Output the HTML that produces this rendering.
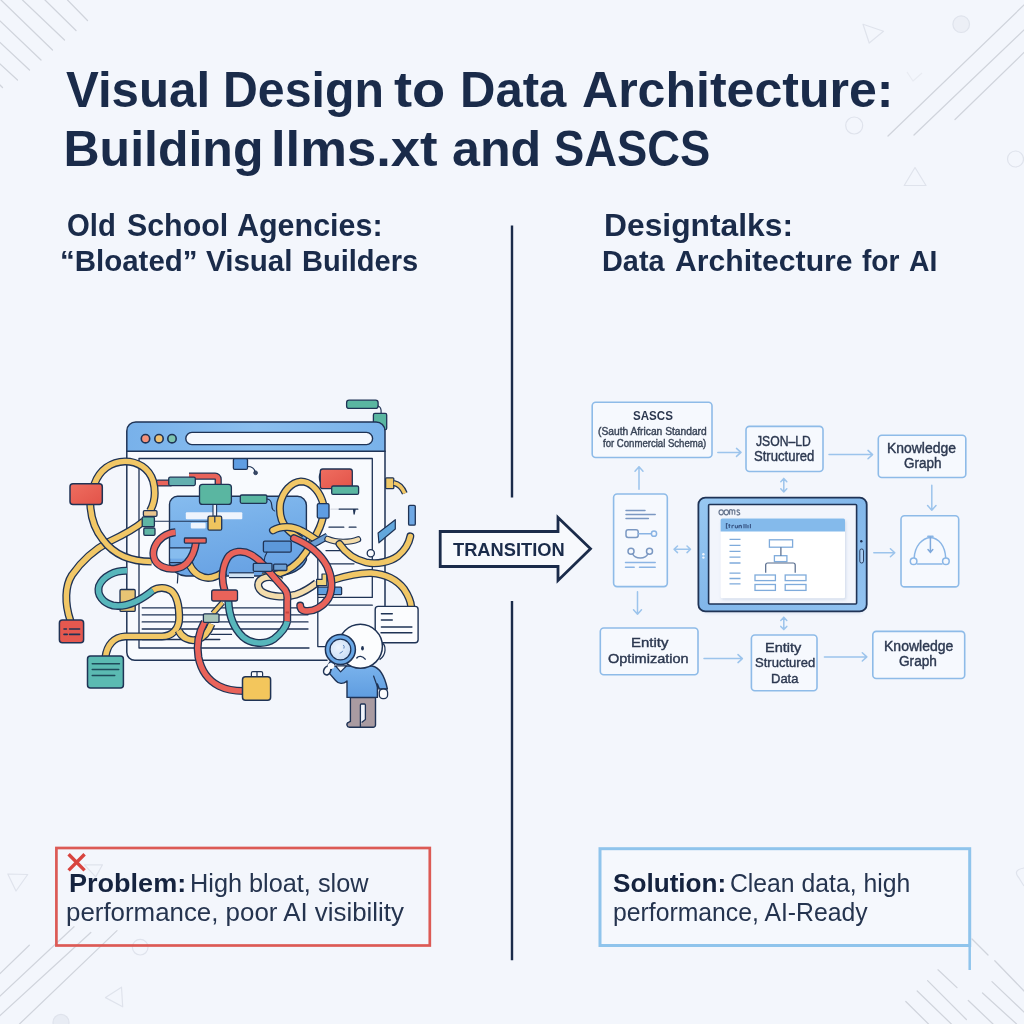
<!DOCTYPE html>
<html lang="en"><head><meta charset="utf-8"><title>Visual Design to Data Architecture</title>
<style>
html,body{margin:0;padding:0}
body{width:1024px;height:1024px;overflow:hidden;background:#f3f6fc;position:relative;
font-family:"Liberation Sans", sans-serif;}
svg{position:absolute;left:0;top:0}
.t{position:absolute;white-space:nowrap;line-height:1;transform-origin:0 0;
font-family:"Liberation Sans", sans-serif;}
</style></head><body>
<svg width="1024" height="1024" viewBox="0 0 1024 1024">
<g fill="none" stroke="#d0d4dc" stroke-width="1.25" stroke-linecap="round">
<!-- top-left -->
<path d="M67.5 0 L87.5 20.5 M45 0 L76 30.5 M22.5 0 L64.5 40 M1 0 L52.5 50 M0 21 L41 60 M0 42.5 L29.5 70 M0 64 L17.5 80 M0 85 L2.5 87.5"/>
<!-- top-right -->
<path d="M888 136 L1024 5 M914 135 L1024 30 M955 119.5 L1024 52.5"/>
<!-- bottom-left -->
<path d="M0 973.5 L29.3 945.2 M0 996 L74 926.7 M0 1015.5 L90.8 932.5 M19.5 1024 L117 930.6"/>
<!-- bottom-right -->
<path d="M972 939 L988 955 M994.8 960.7 L1024 991 M938 969.8 L957 987.6 M992 981.6 L1024 1012 M927.6 980.6 L966.4 1019.5 M982.5 993 L1016.6 1024 M917.2 991 L951.3 1024 M968.3 1000.5 L993 1024 M905.8 1001.5 L928.5 1024"/>
</g>
<g fill="none" stroke="#dfe3ec" stroke-width="1.2" stroke-linejoin="round">
<path d="M863 24.2 L883.5 31.2 L869.2 43 Z"/>
<circle cx="961.2" cy="24.2" r="8.3" fill="#eceff6"/>
<circle cx="854.2" cy="125.5" r="8.5"/>
<path d="M915 167.5 L926 185.5 L904.2 185.5 Z"/>
<circle cx="1015.5" cy="159" r="8"/>
<path d="M907 72 L913 81 L922 73" stroke="#e8ebf2"/>
<path d="M7.8 874 L27.7 874.5 L16 891 Z"/>
<path d="M84.4 864.8 L102.5 864.8 L95.7 876.9 Z"/>
<circle cx="140.2" cy="947.2" r="7.8"/>
<path d="M105.5 997.6 L121.5 987.2 L122.7 1006.8 Z"/>
<circle cx="61" cy="1022.4" r="8" fill="#e8ecf4"/>
<path d="M1024 868 q-12 2 -5 10 q3 5 5 8"/>
</g>
</svg>

<svg width="1024" height="1024" viewBox="0 0 1024 1024">
<defs>
<linearGradient id="tb" x1="0" y1="0" x2="1" y2="0"><stop offset="0" stop-color="#78b1ea"/><stop offset="0.5" stop-color="#8bbfef"/><stop offset="1" stop-color="#79b2ea"/></linearGradient>
<linearGradient id="cd" x1="0" y1="0" x2="0.3" y2="1"><stop offset="0" stop-color="#86bcef"/><stop offset="0.5" stop-color="#76afe9"/><stop offset="1" stop-color="#69a3e4"/></linearGradient>
<linearGradient id="rd" x1="0" y1="0" x2="1" y2="1"><stop offset="0" stop-color="#ef6e60"/><stop offset="1" stop-color="#e25349"/></linearGradient>
<linearGradient id="sh" x1="0" y1="0" x2="0" y2="1"><stop offset="0" stop-color="#79b2ec"/><stop offset="1" stop-color="#5f9de0"/></linearGradient>
<radialGradient id="ln" cx="0.4" cy="0.4" r="0.7"><stop offset="0" stop-color="#eef5fd"/><stop offset="1" stop-color="#c6dcf5"/></radialGradient>
</defs>
<rect x="346.6" y="400.2" width="31.5" height="8.2" rx="2.5" fill="#5ab6a1" stroke="#1f3355" stroke-width="1.3" />
<path d="M378.1 406 q3.5 1 3 7" fill="none" stroke="#1f3355" stroke-width="1.2" stroke-linecap="round" stroke-linejoin="round"/>
<rect x="373.4" y="413.4" width="13.3" height="16.4" rx="1.5" fill="#5ab6a1" stroke="#1f3355" stroke-width="1.3" />
<path d="M126.8 652.3 V430.9 a9 9 0 0 1 9 -9 H376 a9 9 0 0 1 9 9 V605 H373 V647 H327 V660.3 H134.8 a8 8 0 0 1 -8 -8 Z" fill="#f8fafe" stroke="none"/>
<path d="M126.8 451.2 V430.9 a9 9 0 0 1 9 -9 H376 a9 9 0 0 1 9 9 V451.2 Z" fill="url(#tb)" stroke="none"/>
<path d="M327 660.3 H134.8 a8 8 0 0 1 -8 -8 V430.9 a9 9 0 0 1 9 -9 H376 a9 9 0 0 1 9 9 V605.5" fill="none" stroke="#1f3355" stroke-width="1.5" stroke-linecap="round" stroke-linejoin="round"/>
<path d="M126.8 451.2 H385" fill="none" stroke="#1f3355" stroke-width="1.6" stroke-linecap="round" stroke-linejoin="round"/>
<rect x="185.8" y="432.4" width="186.8" height="12.2" rx="6.1" fill="#f6f9fe" stroke="#1f3355" stroke-width="1.4"/>
<circle cx="145.5" cy="438.7" r="4.2" fill="#f4917a" stroke="#1f3355" stroke-width="1.6"/>
<circle cx="159" cy="438.7" r="4.2" fill="#eec172" stroke="#1f3355" stroke-width="1.6"/>
<circle cx="172" cy="438.7" r="4.2" fill="#7cc3ae" stroke="#1f3355" stroke-width="1.6"/>
<path d="M139 648 V458.5 H372.3 V597.4 H318 M139 648 H309 M317.8 559 V646.6 H326 M329 605.2 H372.3" fill="none" stroke="#1f3355" stroke-width="1.3" stroke-linecap="round" stroke-linejoin="round"/>
<path d="M142.2 607.8 H308 M142.2 614.8 H308 M142.2 621.9 H308 M142.2 629 H308 M211 634.4 H231.5 M142.2 634.4 H175 M142.2 639.5 H219.8" fill="none" stroke="#1f3355" stroke-width="1.3" stroke-linecap="round" stroke-linejoin="round"/>
<rect x="320.3" y="469" width="32.0" height="19.7" rx="2.5" fill="url(#rd)" stroke="#1f3355" stroke-width="1.3" />
<path d="M320.3 473 q-2 4 0 9" fill="none" stroke="#1f3355" stroke-width="1.2" stroke-linecap="round" stroke-linejoin="round"/>
<rect x="331.7" y="486" width="26.9" height="8.4" rx="1.5" fill="#5ab6a1" stroke="#1f3355" stroke-width="1.3" />
<path d="M339 509.2 H357.8 M353.6 509.4 l0.5 4.6 l1 -4.6 M329 527.2 H343.8 M349.2 527.2 H356 M330 563.8 H354 M326 550.6 H342" fill="none" stroke="#1f3355" stroke-width="1.3" stroke-linecap="round" stroke-linejoin="round"/>
<path d="M331 509.2 H338" fill="none" stroke="#d9dde6" stroke-width="1.3" stroke-linecap="round" stroke-linejoin="round"/>
<circle cx="370.8" cy="553.3" r="3.6" fill="#fbfcfe" stroke="#1f3355" stroke-width="1.3"/>
<rect x="233.4" y="458.6" width="14.1" height="10.8" rx="1.5" fill="#5f9de2" stroke="#1f3355" stroke-width="1.3" />
<path d="M247.5 466.5 q6.5 0 7.6 5.4" fill="none" stroke="#1f3355" stroke-width="1.2" stroke-linecap="round" stroke-linejoin="round"/>
<circle cx="255.6" cy="472.8" r="1.9" fill="#3b4a66" stroke="#1f3355" stroke-width="0.8"/>
<path d="M169.5 504.3 a8 8 0 0 1 8 -8 H297.4 a9 9 0 0 1 9 9 V560 q-6 14 -30 16 H186 q-12 -1 -16.5 -12 Z" fill="url(#cd)" stroke="#1f3355" stroke-width="1.4"/>
<path d="M170.2 548 H196 V558.6 H170.2 Z" fill="#8cc0f0" opacity="0.8"/>
<path d="M169.5 547.8 H192 M170 562.7 H182 M178 573 l-0.6 10" fill="none" stroke="#1f3355" stroke-width="1.2" stroke-linecap="round" stroke-linejoin="round"/>
<rect x="185.8" y="512.2" width="56.5" height="7" rx="1" fill="#eef4fd"/>
<rect x="190.8" y="522.8" width="14.8" height="5.8" rx="1" fill="#eef4fd"/>
<path d="M154.4 521.2 H208" fill="none" stroke="#1f3355" stroke-width="1.1" stroke-linecap="round" stroke-linejoin="round"/>
<rect x="240.3" y="495" width="26.6" height="8.3" rx="1.5" fill="#5ab6a1" stroke="#1f3355" stroke-width="1.3" />
<path d="M266.9 499 q4.5 0.5 4.8 6 q0.2 5.5 3 6" fill="none" stroke="#1f3355" stroke-width="1.2" stroke-linecap="round" stroke-linejoin="round"/>
<rect x="263.4" y="541.2" width="27.8" height="11.0" rx="1.5" fill="#5c98da" stroke="#1f3355" stroke-width="1.3" />
<path d="M267 552.2 q-2.5 4 -3 9" fill="none" stroke="#1f3355" stroke-width="1.2" stroke-linecap="round" stroke-linejoin="round"/>
<path d="M158 483 H170" fill="none" stroke="#1f3355" stroke-width="7" stroke-linecap="round" stroke-linejoin="round"/>
<path d="M158 483 H170" fill="none" stroke="#e9635a" stroke-width="4.6" stroke-linecap="round" stroke-linejoin="round"/>
<path d="M189 476.1 H215.2 a3 3 0 0 1 3 3 V485" fill="none" stroke="#1f3355" stroke-width="7.2" stroke-linecap="butt" stroke-linejoin="round"/>
<path d="M189 476.1 H215.2 a3 3 0 0 1 3 3 V485" fill="none" stroke="#e9635a" stroke-width="4.6" stroke-linecap="butt" stroke-linejoin="round"/>
<rect x="168.7" y="477.2" width="26.6" height="8.4" rx="1.5" fill="#63afb0" stroke="#1f3355" stroke-width="1.3" />
<rect x="213" y="504" width="3.6" height="13" fill="#f1f4fa" stroke="#1f3355" stroke-width="1.1"/>
<rect x="199.5" y="484.3" width="31.9" height="20.1" rx="3" fill="#5ab6a1" stroke="#1f3355" stroke-width="1.3" />
<rect x="208" y="516.2" width="13.7" height="14.0" rx="1.5" fill="#efc45e" stroke="#1f3355" stroke-width="1.3" />
<path d="M214.8 516.2 V522" fill="none" stroke="#1f3355" stroke-width="1.2" stroke-linecap="round" stroke-linejoin="round"/>
<path d="M144 521 C134 529.5 121 536 109.4 541.5 C95.5 549 81 562 72 575 C65 586 64.4 603 70.5 621" fill="none" stroke="#1f3355" stroke-width="8.0" stroke-linecap="butt" stroke-linejoin="round"/>
<path d="M144 521 C134 529.5 121 536 109.4 541.5 C95.5 549 81 562 72 575 C65 586 64.4 603 70.5 621" fill="none" stroke="#f1c766" stroke-width="5.4" stroke-linecap="butt" stroke-linejoin="round"/>
<path d="M150 511 C154.5 503 156 492 153.1 481 C149 468 137.5 461.4 125 461.4 C111 461.6 99.5 470 94.5 484 L90.3 504.4 C90.8 517 95 530 103.1 540 C112 552 127 561.6 151.5 561.6" fill="none" stroke="#1f3355" stroke-width="8.0" stroke-linecap="butt" stroke-linejoin="round"/>
<path d="M150 511 C154.5 503 156 492 153.1 481 C149 468 137.5 461.4 125 461.4 C111 461.6 99.5 470 94.5 484 L90.3 504.4 C90.8 517 95 530 103.1 540 C112 552 127 561.6 151.5 561.6" fill="none" stroke="#f1c766" stroke-width="5.4" stroke-linecap="butt" stroke-linejoin="round"/>
<rect x="70" y="483.8" width="32.3" height="20.6" rx="3" fill="url(#rd)" stroke="#1f3355" stroke-width="1.5" />
<rect x="143.4" y="510.6" width="13.6" height="5.7" rx="1.2" fill="#e9c58f" stroke="#1f3355" stroke-width="1.3" />
<rect x="142.2" y="516.9" width="12.2" height="9.8" rx="1.2" fill="#5fb5a5" stroke="#1f3355" stroke-width="1.3" />
<rect x="143.8" y="528" width="11.2" height="7.3" rx="1.2" fill="#5fb5a5" stroke="#1f3355" stroke-width="1.3" />
<path d="M189 563 C192.5 573 202 579.5 212 577.5 C218 576.3 221 573.5 225 571" fill="none" stroke="#1f3355" stroke-width="8.0" stroke-linecap="butt" stroke-linejoin="round"/>
<path d="M189 563 C192.5 573 202 579.5 212 577.5 C218 576.3 221 573.5 225 571" fill="none" stroke="#f1c766" stroke-width="5.4" stroke-linecap="butt" stroke-linejoin="round"/>
<path d="M229 575.2 H254" fill="none" stroke="#1f3355" stroke-width="6" stroke-linecap="butt" stroke-linejoin="round"/>
<path d="M229 575.2 H254" fill="none" stroke="#cfe2f4" stroke-width="3.6" stroke-linecap="butt" stroke-linejoin="round"/>
<path d="M262 576.4 C280 576 292 569 300.5 559.5 C308.5 550 315 538 319.7 527.5 C324 517 325 507 322 500 C318 489 310 481.6 301 481.4 C291 482 283 492 280.3 503 C279 513 281 522 287 528.5 C291 533 296 536.5 301 539.5" fill="none" stroke="#1f3355" stroke-width="8.0" stroke-linecap="butt" stroke-linejoin="round"/>
<path d="M262 576.4 C280 576 292 569 300.5 559.5 C308.5 550 315 538 319.7 527.5 C324 517 325 507 322 500 C318 489 310 481.6 301 481.4 C291 482 283 492 280.3 503 C279 513 281 522 287 528.5 C291 533 296 536.5 301 539.5" fill="none" stroke="#f1c766" stroke-width="5.4" stroke-linecap="butt" stroke-linejoin="round"/>
<path d="M273 530.4 C281 525.5 293 526 302 531 C309 534.6 313 538 318 541" fill="none" stroke="#1f3355" stroke-width="8.0" stroke-linecap="round" stroke-linejoin="round"/>
<path d="M273 530.4 C281 525.5 293 526 302 531 C309 534.6 313 538 318 541" fill="none" stroke="#f1c766" stroke-width="5.4" stroke-linecap="round" stroke-linejoin="round"/>
<rect x="317.3" y="503.6" width="11.7" height="14.6" rx="1.5" fill="#5f9de2" stroke="#1f3355" stroke-width="1.3" />
<path d="M311.5 545 L327.5 536.2" fill="none" stroke="#1f3355" stroke-width="7.4" stroke-linecap="butt" stroke-linejoin="round"/>
<path d="M311.5 545 L327.5 536.2" fill="none" stroke="#6c9fd4" stroke-width="5" stroke-linecap="butt" stroke-linejoin="round"/>
<path d="M327.5 539 C336 542.8 350 542.8 358 539.4" fill="none" stroke="#1f3355" stroke-width="6.4" stroke-linecap="round" stroke-linejoin="round"/>
<path d="M327.5 539 C336 542.8 350 542.8 358 539.4" fill="none" stroke="#f3dcab" stroke-width="4.2" stroke-linecap="round" stroke-linejoin="round"/>
<path d="M339.5 544 C346 553.5 356 560 366 562.4 C377 564.6 390 562 398 556 C405 550 409 543 410.3 536.4" fill="none" stroke="#1f3355" stroke-width="8.0" stroke-linecap="round" stroke-linejoin="round"/>
<path d="M339.5 544 C346 553.5 356 560 366 562.4 C377 564.6 390 562 398 556 C405 550 409 543 410.3 536.4" fill="none" stroke="#f1c766" stroke-width="5.4" stroke-linecap="round" stroke-linejoin="round"/>
<path d="M175.5 532.2 C166 533 158 539 154.7 547 C151.6 555 154 563 162.5 566.8 C171 570.6 181 569 187 563 C192 557.5 195 550 196 542" fill="none" stroke="#1f3355" stroke-width="8.0" stroke-linecap="butt" stroke-linejoin="round"/>
<path d="M175.5 532.2 C166 533 158 539 154.7 547 C151.6 555 154 563 162.5 566.8 C171 570.6 181 569 187 563 C192 557.5 195 550 196 542" fill="none" stroke="#e9635a" stroke-width="5.4" stroke-linecap="butt" stroke-linejoin="round"/>
<rect x="184.4" y="538" width="21.8" height="5.1" rx="0.8" fill="#e9635a" stroke="#1f3355" stroke-width="1.3" />
<rect x="273.6" y="564.2" width="13.3" height="6.3" rx="1" fill="#6c9fd4" stroke="#1f3355" stroke-width="1.3" />
<path d="M316.5 583 C309.5 588.5 303 592.3 296 594.6 C286 597.6 272 597 264.4 593.2 C257 589.4 256 582 262.4 578.6 C268 576 275 577 281 581" fill="none" stroke="#1f3355" stroke-width="8.0" stroke-linecap="butt" stroke-linejoin="round"/>
<path d="M316.5 583 C309.5 588.5 303 592.3 296 594.6 C286 597.6 272 597 264.4 593.2 C257 589.4 256 582 262.4 578.6 C268 576 275 577 281 581" fill="none" stroke="#f3dcab" stroke-width="5.4" stroke-linecap="butt" stroke-linejoin="round"/>
<path d="M224.6 590.5 C221.4 580 222 567.5 227.5 558 C232.5 550.6 243 550 251 554.6 C257 558 261 562 264 565.5 C271 574 280 584 285 589.6 C288 594 287.6 598 287.2 601 V621.5" fill="none" stroke="#1f3355" stroke-width="8.0" stroke-linecap="butt" stroke-linejoin="round"/>
<path d="M224.6 590.5 C221.4 580 222 567.5 227.5 558 C232.5 550.6 243 550 251 554.6 C257 558 261 562 264 565.5 C271 574 280 584 285 589.6 C288 594 287.6 598 287.2 601 V621.5" fill="none" stroke="#e9635a" stroke-width="5.4" stroke-linecap="butt" stroke-linejoin="round"/>
<rect x="253.3" y="563.4" width="18.7" height="7.9" rx="1" fill="#6c9fd4" stroke="#1f3355" stroke-width="1.3" />
<rect x="285.6" y="611.5" width="3.4" height="2" fill="#c8453e"/>
<path d="M228.4 601 C229 615 234 628.5 243 637 C251 644 265 645 273.5 639.3 C281 633.5 286 627 287.2 621.5" fill="none" stroke="#1f3355" stroke-width="8.0" stroke-linecap="butt" stroke-linejoin="round"/>
<path d="M228.4 601 C229 615 234 628.5 243 637 C251 644 265 645 273.5 639.3 C281 633.5 286 627 287.2 621.5" fill="none" stroke="#57b6bb" stroke-width="5.4" stroke-linecap="butt" stroke-linejoin="round"/>
<rect x="211.7" y="590" width="25.8" height="11.0" rx="2" fill="#e9635a" stroke="#1f3355" stroke-width="1.3" />
<path d="M333.5 579.8 C345 576.2 360 572.6 371.3 573 C385 574 397 580 404 589 C408 595 410.6 600 411.2 606.5" fill="none" stroke="#1f3355" stroke-width="8.0" stroke-linecap="butt" stroke-linejoin="round"/>
<path d="M333.5 579.8 C345 576.2 360 572.6 371.3 573 C385 574 397 580 404 589 C408 595 410.6 600 411.2 606.5" fill="none" stroke="#f1c766" stroke-width="5.4" stroke-linecap="butt" stroke-linejoin="round"/>
<path d="M316.6 579.4 H322 V574 H326.8 V585.6 H316.6 Z" fill="#efd27a" stroke="#1f3355" stroke-width="1.2" stroke-linejoin="round"/>
<rect x="317.8" y="587.2" width="23.8" height="7.5" rx="1" fill="#5f9fe0" stroke="#1f3355" stroke-width="1.3" />
<rect x="327" y="588" width="5" height="6" fill="#9cc4ee"/>
<path d="M294 538.2 C307 543.6 320 553 327 566 C332.4 577 333 590 328.4 598.4 C323.4 606.4 313.4 612.4 304.4 610.8 C301.4 610.2 300.2 608 300.2 605.6" fill="none" stroke="#1f3355" stroke-width="8.0" stroke-linecap="round" stroke-linejoin="round"/>
<path d="M294 538.2 C307 543.6 320 553 327 566 C332.4 577 333 590 328.4 598.4 C323.4 606.4 313.4 612.4 304.4 610.8 C301.4 610.2 300.2 608 300.2 605.6" fill="none" stroke="#e9635a" stroke-width="5.4" stroke-linecap="round" stroke-linejoin="round"/>
<rect x="375.2" y="606.4" width="42.9" height="36.3" rx="3" fill="#fbfcfe" stroke="#1f3355" stroke-width="1.4" />
<path d="M381.4 613.8 H392.3 M381.4 620 H392.3 M381.4 627 H411.9 M381 632.8 H411.9" fill="none" stroke="#1f3355" stroke-width="1.4" stroke-linecap="round" stroke-linejoin="round"/>
<rect x="385.6" y="477.8" width="8.2" height="10.9" rx="1" fill="#efc868" stroke="#1f3355" stroke-width="1.3" />
<path d="M393.8 483 C399 484 402.6 488 404.8 493.4" fill="none" stroke="#1f3355" stroke-width="6" stroke-linecap="butt" stroke-linejoin="round"/>
<path d="M393.8 483 C399 484 402.6 488 404.8 493.4" fill="none" stroke="#f1c766" stroke-width="3.6" stroke-linecap="butt" stroke-linejoin="round"/>
<rect x="408.6" y="505.3" width="6.7" height="19.9" rx="1.2" fill="#6fa8e4" stroke="#1f3355" stroke-width="1.3" />
<path d="M378.1 533 L395.3 519.7 V529 L378.9 542.8 Z" fill="#63a7dc" stroke="#1f3355" stroke-width="1.2" stroke-linejoin="round"/>
<rect x="120" y="589.5" width="15.2" height="21.9" rx="1.2" fill="#e8c474" stroke="#1f3355" stroke-width="1.3" />
<path d="M127 570.8 C115 570.5 103 576 99 586 C96.5 595 103 603 113 605.5 C125 607.5 140 601 153.6 589.8" fill="none" stroke="#1f3355" stroke-width="8.0" stroke-linecap="butt" stroke-linejoin="round"/>
<path d="M127 570.8 C115 570.5 103 576 99 586 C96.5 595 103 603 113 605.5 C125 607.5 140 601 153.6 589.8" fill="none" stroke="#57b6bb" stroke-width="5.4" stroke-linecap="butt" stroke-linejoin="round"/>
<path d="M153 590.3 C158 587 166 587 171.5 591 C177 596 179.2 606 179.2 618 C179.2 629 172 636.4 162 636.4 L125 636.4 C114 637 107 645 105.5 657" fill="none" stroke="#1f3355" stroke-width="8.0" stroke-linecap="butt" stroke-linejoin="round"/>
<path d="M153 590.3 C158 587 166 587 171.5 591 C177 596 179.2 606 179.2 618 C179.2 629 172 636.4 162 636.4 L125 636.4 C114 637 107 645 105.5 657" fill="none" stroke="#f1c766" stroke-width="5.4" stroke-linecap="butt" stroke-linejoin="round"/>
<path d="M178.5 630.5 C182 638 190 641.8 197.5 639.6 C204 637.2 209 630.5 211.5 624" fill="none" stroke="#1f3355" stroke-width="8.0" stroke-linecap="butt" stroke-linejoin="round"/>
<path d="M178.5 630.5 C182 638 190 641.8 197.5 639.6 C204 637.2 209 630.5 211.5 624" fill="none" stroke="#f1c766" stroke-width="5.4" stroke-linecap="butt" stroke-linejoin="round"/>
<path d="M213 613.4 L222.6 602.6" fill="none" stroke="#1f3355" stroke-width="6" stroke-linecap="butt" stroke-linejoin="round"/>
<path d="M213 613.4 L222.6 602.6" fill="none" stroke="#f1c766" stroke-width="3.6" stroke-linecap="butt" stroke-linejoin="round"/>
<path d="M204.6 622 C199 632 196.4 645 198.4 657 C201 670 208 680.4 219 686 C227 690 235 691 243.5 691" fill="none" stroke="#1f3355" stroke-width="8.0" stroke-linecap="butt" stroke-linejoin="round"/>
<path d="M204.6 622 C199 632 196.4 645 198.4 657 C201 670 208 680.4 219 686 C227 690 235 691 243.5 691" fill="none" stroke="#e9635a" stroke-width="5.4" stroke-linecap="butt" stroke-linejoin="round"/>
<rect x="203.4" y="613.8" width="15.6" height="8.5" rx="1.2" fill="#a9c6ba" stroke="#1f3355" stroke-width="1.3" />
<rect x="59.4" y="620" width="24.2" height="22.7" rx="3" fill="#e5584f" stroke="#1f3355" stroke-width="1.5" />
<path d="M64 629 H66.4 M69.6 629 H79.6 M64 634.4 H67.2 M69.6 634.4 H79.6" fill="none" stroke="#1f3355" stroke-width="1.6" stroke-linecap="round" stroke-linejoin="round"/>
<rect x="87.5" y="656" width="35.9" height="32.0" rx="3" fill="#5bbab2" stroke="#1f3355" stroke-width="1.5" />
<path d="M92.2 663.8 H119.5 M92.2 669.5 H118.8 M92.2 675.5 H114.8" fill="none" stroke="#1f4a5a" stroke-width="1.4" stroke-linecap="round" stroke-linejoin="round"/>
<path d="M251.4 676.7 V673 a1.4 1.4 0 0 1 1.4 -1.4 H261.2 a1.4 1.4 0 0 1 1.4 1.4 V676.7 M257 671.6 V676.7" fill="#fbfcfe" stroke="#1f3355" stroke-width="1.2"/>
<rect x="242.5" y="676.7" width="28.1" height="23.5" rx="3" fill="#f3c65c" stroke="#1f3355" stroke-width="1.5" />
<path d="M350.4 697.6 H375.5 V725 a2.3 2.3 0 0 1 -2.3 2.3 H349.5 a2.6 2.6 0 0 1 -1 -5 L350.4 721.4 Z" fill="#a99ba1" stroke="#1f3355" stroke-width="1.4" stroke-linejoin="round"/>
<path d="M360.4 727 V705 a1 1 0 0 1 1 -1 H364.4 a1 1 0 0 1 1 1 V719.6 L361.6 722.6" fill="#f2f5fb" stroke="#1f3355" stroke-width="1.3" stroke-linejoin="round"/>
<path d="M335 666.4 L347 666 H372 C380 667.5 384.5 675 387.4 689 H379.4 L377.4 684 V697.4 H347 V681 C343 684.5 338.6 684 335.6 680.5 L328.8 672.6 L333.6 665.8 Z" fill="url(#sh)" stroke="#1f3355" stroke-width="1.4" stroke-linejoin="round"/>
<path d="M373.6 676 L378.2 689" fill="none" stroke="#1f3355" stroke-width="1.2" stroke-linecap="round" stroke-linejoin="round"/>
<path d="M335.6 666 L340.6 671.8 L346.4 666 Z" fill="#fbfcfe" stroke="#1f3355" stroke-width="1.2" stroke-linejoin="round"/>
<rect x="379.3" y="689" width="8.3" height="9.7" rx="3.6" fill="#fbfcfe" stroke="#1f3355" stroke-width="1.3"/>
<path d="M381.6 642.6 C386.4 645 386.6 655 379.6 659.6" fill="#fbfcfe" stroke="#1f3355" stroke-width="1.3"/>
<circle cx="360.4" cy="646.3" r="22" fill="#fcfdfe" stroke="#1f3355" stroke-width="1.5"/>
<ellipse cx="362.5" cy="648.2" rx="1.4" ry="2.2" fill="#1f3355"/>
<path d="M356.8 658 C358.4 655.8 362.6 655.6 365.2 659.2" fill="none" stroke="#1f3355" stroke-width="1.4" stroke-linecap="round" stroke-linejoin="round"/>
<path d="M332.6 662.6 L328 669.4" fill="none" stroke="#1f3355" stroke-width="6.2" stroke-linecap="round" stroke-linejoin="round"/>
<path d="M332.6 662.6 L328 669.4" fill="none" stroke="#6aa5e6" stroke-width="3.6" stroke-linecap="round" stroke-linejoin="round"/>
<ellipse cx="327.2" cy="670.6" rx="3.4" ry="4.4" fill="#fbfcfe" stroke="#1f3355" stroke-width="1.6" transform="rotate(25 327.2 670.6)"/>
<ellipse cx="331" cy="666" rx="3.4" ry="3" fill="#fbfcfe"/>
<circle cx="340.4" cy="649.5" r="15" fill="#6aa8e6" stroke="#1f3355" stroke-width="1.5"/>
<circle cx="340.4" cy="649.5" r="10.4" fill="url(#ln)" stroke="#1f3355" stroke-width="1.3"/>
<path d="M343.6 645.2 q1.2 1 0.4 3 M342.6 651.2 q-0.6 1.6 -2.6 2" fill="none" stroke="#5d86bd" stroke-width="1.0" stroke-linecap="round" stroke-linejoin="round"/>
</svg>
<svg width="1024" height="1024" viewBox="0 0 1024 1024">
<defs>
<linearGradient id="tabg" x1="0" y1="0" x2="1" y2="1">
<stop offset="0" stop-color="#98c8f2"/><stop offset="0.5" stop-color="#82b7ea"/><stop offset="1" stop-color="#93c3f0"/>
</linearGradient>
<filter id="soft" x="-10%" y="-10%" width="120%" height="130%"><feGaussianBlur stdDeviation="1.6"/></filter>
</defs>
<g fill="#f6f9fe" stroke="#8ebbe8" stroke-width="1.6">
<rect x="592.2" y="402.2" width="119.8" height="55.3" rx="3.5"/>
<rect x="746" y="426.4" width="77" height="45.1" rx="3.5"/>
<rect x="878.3" y="435.2" width="87.5" height="42.3" rx="3.5"/>
<rect x="613.6" y="494" width="53.7" height="92.6" rx="3.5"/>
<rect x="901" y="515.8" width="57.7" height="71.1" rx="3.5"/>
<rect x="600.3" y="628" width="97.7" height="46.8" rx="3.5"/>
<rect x="751.4" y="635" width="65.6" height="55.8" rx="3.5"/>
<rect x="872.8" y="631.4" width="91.9" height="47.1" rx="3.5"/>
</g>
<!-- arrows -->
<g fill="none" stroke="#9cc4ec" stroke-width="1.5" stroke-linecap="round" stroke-linejoin="round">
<path d="M639 489.2 V466.8 M635 471.3 L639 466.8 L643 471.3"/>
<path d="M637.5 591.8 V614.2 M633.5 609.7 L637.5 614.2 L641.5 609.7"/>
<path d="M674 549.3 H690.5 M677.5 546 L674 549.3 L677.5 552.6 M687 546 L690.5 549.3 L687 552.6"/>
<path d="M717.8 452.4 H741 M736.5 448.4 L741 452.4 L736.5 456.4"/>
<path d="M829 454.6 H872.6 M868 450.4 L872.6 454.6 L868 458.8"/>
<path d="M783.8 478.6 V492 M780.8 481.8 L783.8 478.6 L786.8 481.8 M780.8 488.8 L783.8 492 L786.8 488.8"/>
<path d="M783.8 617.2 V629.6 M780.8 620.4 L783.8 617.2 L786.8 620.4 M780.8 626.4 L783.8 629.6 L786.8 626.4"/>
<path d="M931.8 485.3 V510.2 M927.6 505.6 L931.8 510.2 L936 505.6"/>
<path d="M873.8 552.8 H894.8 M890.4 548.8 L894.8 552.8 L890.4 556.8"/>
<path d="M704 658.6 H742.4 M738 654.6 L742.4 658.6 L738 662.6"/>
<path d="M824.4 656.9 H866.8 M862.3 652.8 L866.8 656.9 L862.3 661"/>
</g>
<!-- phone icons -->
<g fill="none" stroke="#7fa3d0" stroke-width="1.5" stroke-linecap="round">
<path d="M626 510.4 H645 M626 514.5 H655.2 M626 518.6 H648.4" stroke="#7b98c2"/>
<rect x="626" y="529.8" width="12.2" height="7.6" rx="2.2" stroke="#7b98c2"/>
<path d="M638.2 533.7 H651.3" stroke="#8ab4e4"/>
<circle cx="654" cy="533.7" r="2.6" stroke="#8ab4e4"/>
<circle cx="631" cy="551.2" r="3" stroke="#7b98c2"/>
<circle cx="649.5" cy="551.2" r="3" stroke="#7b98c2"/>
<path d="M632.6 553.8 C635 559.5 645.5 559.5 647.9 553.8" stroke="#7b98c2"/>
<path d="M625.5 562.6 H655.2 M625.5 567.2 H634.2 M639.5 567.2 H655.2" stroke="#8ab4e4"/>
</g>
<!-- gauge icon -->
<g fill="none" stroke="#8ab6e6" stroke-width="1.5" stroke-linecap="round">
<path d="M914.2 557.8 C915 546 922 538 930.4 537.4 C939 538 945 546 945.7 557.8"/>
<circle cx="913.6" cy="561.2" r="3.3" fill="#f6f9fe"/>
<circle cx="945.9" cy="561.2" r="3.3" fill="#f6f9fe"/>
<path d="M917.4 564 H942"/>
<path d="M928 536.4 H932.8" stroke-width="1.8"/>
<path d="M930.4 537 V552 M928 549.6 L930.4 552.4 L932.8 549.6" stroke="#7fa9dc"/>
</g>
<!-- tablet -->
<rect x="700" y="500.5" width="166" height="113" rx="8" fill="#c9d6ea" opacity="0.55" filter="url(#soft)"/>
<rect x="698.4" y="497.6" width="168.3" height="113.8" rx="7" fill="url(#tabg)" stroke="#1f3355" stroke-width="1.8"/>
<rect x="708.6" y="504.5" width="148" height="99.5" rx="1" fill="#f2f5fc" stroke="#1f3355" stroke-width="1.6"/>
<rect x="721.6" y="520.2" width="124.4" height="79.6" rx="1.5" fill="#b9c8de" opacity="0.6" filter="url(#soft)"/>
<rect x="720.6" y="518.6" width="124.4" height="79.6" rx="1.5" fill="#ffffff"/>
<path d="M720.6 531.6 V520.1 a1.5 1.5 0 0 1 1.5 -1.5 H843.5 a1.5 1.5 0 0 1 1.5 1.5 V531.6 Z" fill="#84baeb"/>
<g fill="none" stroke="#66758e" stroke-width="1.15">
<ellipse cx="721.2" cy="512.3" rx="2.2" ry="2.5"/><ellipse cx="726.3" cy="512.3" rx="2.2" ry="2.5"/>
<path d="M729.6 514.8 V510 q1.6 -0.8 2.6 0.4 V514.8 M732.2 510.4 q1.6 -1.2 2.6 0 V514.8"/>
<path d="M739.8 510.4 q-2.6 -1.4 -2.8 0.6 q0.2 1.2 1.6 1.4 q1.6 0.6 1 2 q-1.2 1 -3 0"/>
</g>
<g fill="none" stroke="#3a5888" stroke-width="1.15">
<path d="M727.6 523.6 H726.4 V528.2 H727.6 M729.3 524 V528 M728.3 525.2 H730.5 M732 525.2 V528.2 M732 526 q1 -1 2 -0.6 M735.3 525.2 V527.4 q1 1.2 2.2 0 V525.2 M739 528.2 V525.2 M739 526 q1.2 -1.2 2.4 0 V528.2 M744 524 V528.2 M746 524 V528.2 M748 525 V528.2 M750.4 524 V528.2"/>
</g>
<g fill="none" stroke="#7fabdb" stroke-width="1.3">
<path d="M729.5 539.4 H740.5 M729.5 545.3 H740.5 M729.5 551.3 H740.5 M729.5 557.2 H740.5 M729.5 563 H740.5 M729.5 573.2 H740.5 M729.5 578.5 H740.5 M729.5 583.9 H740.5"/>
<rect x="769.4" y="539.8" width="23.2" height="7.4"/>
<rect x="774.4" y="555.7" width="12.5" height="5.9"/>
<rect x="755" y="575" width="20.4" height="5.6"/><rect x="755" y="584.5" width="20.4" height="5.9"/>
<rect x="785.2" y="575" width="20.8" height="5.6"/><rect x="785.2" y="584.5" width="20.8" height="5.9"/>
</g>
<path d="M780.9 547.2 V555.7 M765.7 572.8 V565 q0 -2 2 -2 H793.2 q2 0 2 2 V572.8" fill="none" stroke="#53688a" stroke-width="1.2"/>
<circle cx="703.4" cy="554.2" r="1.2" fill="#eef4fd"/><circle cx="703.4" cy="557.6" r="1.2" fill="#eef4fd"/>
<circle cx="861.3" cy="541.2" r="1.2" fill="#1f3355"/>
<rect x="859.8" y="549" width="3.7" height="14" rx="1.8" fill="#a9cdf3" stroke="#1f3355" stroke-width="0.9"/>
</svg>

<svg width="1024" height="1024" viewBox="0 0 1024 1024">
<!-- divider -->
<line x1="512" y1="225.5" x2="512" y2="497.6" stroke="#1a2b4a" stroke-width="2.4"/>
<line x1="512" y1="601" x2="512" y2="960.2" stroke="#1a2b4a" stroke-width="2.4"/>
<!-- transition arrow -->
<path d="M440.2 531.5 H558 V517.5 L590.5 548.7 L558 580.5 V566.5 H440.2 Z" fill="#f7f9fd" stroke="#1a2b4a" stroke-width="2.8" stroke-linejoin="miter"/>
<!-- problem box -->
<rect x="56.4" y="848" width="373.4" height="97.5" fill="none" stroke="#dc5a55" stroke-width="2.7"/>
<path d="M68.6 854.2 L84.6 870.4 M84.6 854.2 L68.6 870.4" stroke="#d8443f" stroke-width="3.4" fill="none"/>
<!-- solution box -->
<rect x="600" y="848.7" width="369.7" height="96.8" fill="#f5f8fd" stroke="#8fc4ec" stroke-width="3"/>
<line x1="969.7" y1="945" x2="969.7" y2="970" stroke="#8fc4ec" stroke-width="2.5"/>
</svg>

<div class="t" style="left:65.6px;top:64.7px;font-size:50px;font-weight:700;color:#1a2b4a;transform:scaleX(0.9846)">Visual</div>
<div class="t" style="left:223.2px;top:64.7px;font-size:50px;font-weight:700;color:#1a2b4a;transform:scaleX(0.9652)">Design</div>
<div class="t" style="left:394.3px;top:64.7px;font-size:50px;font-weight:700;color:#1a2b4a;transform:scaleX(1.0864)">to</div>
<div class="t" style="left:459.7px;top:64.7px;font-size:50px;font-weight:700;color:#1a2b4a;transform:scaleX(0.9811)">Data</div>
<div class="t" style="left:581.6px;top:64.7px;font-size:50px;font-weight:700;color:#1a2b4a;transform:scaleX(1.0010)">Architecture:</div>
<div class="t" style="left:63.5px;top:124.0px;font-size:50px;font-weight:700;color:#1a2b4a;transform:scaleX(1.0000)">Building</div>
<div class="t" style="left:271.2px;top:124.0px;font-size:50px;font-weight:700;color:#1a2b4a;transform:scaleX(1.0516)">llms.xt</div>
<div class="t" style="left:451.9px;top:124.0px;font-size:50px;font-weight:700;color:#1a2b4a;transform:scaleX(1.0036)">and</div>
<div class="t" style="left:554.3px;top:124.0px;font-size:50px;font-weight:700;color:#1a2b4a;transform:scaleX(0.9077)">SASCS</div>
<div class="t" style="left:66.6px;top:209.7px;font-size:30.5px;font-weight:700;color:#1a2b4a;transform:scaleX(0.9604)">Old</div>
<div class="t" style="left:127.1px;top:209.7px;font-size:30.5px;font-weight:700;color:#1a2b4a;transform:scaleX(0.9949)">School</div>
<div class="t" style="left:236.5px;top:209.7px;font-size:30.5px;font-weight:700;color:#1a2b4a;transform:scaleX(0.9986)">Agencies:</div>
<div class="t" style="left:59.7px;top:245.8px;font-size:30px;font-weight:700;color:#1a2b4a;transform:scaleX(0.9824)">“Bloated”</div>
<div class="t" style="left:206.3px;top:245.8px;font-size:30px;font-weight:700;color:#1a2b4a;transform:scaleX(0.9849)">Visual</div>
<div class="t" style="left:302.0px;top:245.8px;font-size:30px;font-weight:700;color:#1a2b4a;transform:scaleX(0.9684)">Builders</div>
<div class="t" style="left:604.4px;top:209.5px;font-size:30.5px;font-weight:700;color:#1a2b4a;transform:scaleX(1.0424)">Designtalks:</div>
<div class="t" style="left:602.3px;top:245.6px;font-size:30px;font-weight:700;color:#1a2b4a;transform:scaleX(0.9619)">Data</div>
<div class="t" style="left:674.7px;top:245.6px;font-size:30px;font-weight:700;color:#1a2b4a;transform:scaleX(1.0046)">Architecture</div>
<div class="t" style="left:862.0px;top:245.6px;font-size:30px;font-weight:700;color:#1a2b4a;transform:scaleX(0.9375)">for</div>
<div class="t" style="left:909.1px;top:245.6px;font-size:30px;font-weight:700;color:#1a2b4a;transform:scaleX(0.9444)">AI</div>
<div class="t" style="left:453.4px;top:539.5px;font-size:19px;font-weight:700;color:#1a2b4a;transform:scaleX(0.9617)">TRANSITION</div>
<div class="t" style="left:69.1px;top:871.2px;font-size:25px;font-weight:700;color:#15233f;transform:scaleX(1.0817)">Problem:</div>
<div class="t" style="left:190.3px;top:871.2px;font-size:25px;font-weight:400;color:#25344f;transform:scaleX(1.0114)">High bloat, slow</div>
<div class="t" style="left:65.9px;top:899.8px;font-size:25px;font-weight:400;color:#25344f;transform:scaleX(1.0349)">performance, poor AI visibility</div>
<div class="t" style="left:613.2px;top:871.2px;font-size:25px;font-weight:700;color:#15233f;transform:scaleX(1.0457)">Solution:</div>
<div class="t" style="left:730.4px;top:871.2px;font-size:25px;font-weight:400;color:#25344f;transform:scaleX(0.9894)">Clean data, high</div>
<div class="t" style="left:613.4px;top:899.8px;font-size:25px;font-weight:400;color:#25344f;transform:scaleX(0.9906)">performance, AI-Ready</div>
<div class="t" style="left:633.0px;top:409.3px;font-size:13.2px;font-weight:700;color:#2c3850;transform:scaleX(0.8773)">SASCS</div>
<div class="t" style="left:597.8px;top:426.5px;font-size:10.4px;font-weight:400;color:#3a4558;-webkit-text-stroke:0.4px #3a4558;transform:scaleX(0.9853)">(Sauth African Standard</div>
<div class="t" style="left:602.7px;top:439.0px;font-size:10.4px;font-weight:400;color:#3a4558;-webkit-text-stroke:0.4px #3a4558;transform:scaleX(0.9216)">for Conmercial Schema)</div>
<div class="t" style="left:756.0px;top:434.7px;font-size:13.8px;font-weight:400;color:#2c3850;-webkit-text-stroke:0.4px #2c3850;transform:scaleX(0.8823)">JSON–LD</div>
<div class="t" style="left:753.8px;top:449.7px;font-size:13.8px;font-weight:400;color:#2c3850;-webkit-text-stroke:0.4px #2c3850;transform:scaleX(0.9484)">Structured</div>
<div class="t" style="left:887.0px;top:441.5px;font-size:13.8px;font-weight:400;color:#2c3850;-webkit-text-stroke:0.4px #2c3850;transform:scaleX(1.0104)">Knowledge</div>
<div class="t" style="left:904.0px;top:457.1px;font-size:13.8px;font-weight:400;color:#2c3850;-webkit-text-stroke:0.4px #2c3850;transform:scaleX(0.9784)">Graph</div>
<div class="t" style="left:630.9px;top:635.7px;font-size:13.5px;font-weight:400;color:#2c3850;-webkit-text-stroke:0.4px #2c3850;transform:scaleX(1.1061)">Entity</div>
<div class="t" style="left:608.4px;top:652.1px;font-size:13.5px;font-weight:400;color:#2c3850;-webkit-text-stroke:0.4px #2c3850;transform:scaleX(1.0753)">Optimization</div>
<div class="t" style="left:765.1px;top:640.6px;font-size:13.5px;font-weight:400;color:#2c3850;-webkit-text-stroke:0.4px #2c3850;transform:scaleX(1.0758)">Entity</div>
<div class="t" style="left:754.5px;top:656.1px;font-size:13.5px;font-weight:400;color:#2c3850;-webkit-text-stroke:0.4px #2c3850;transform:scaleX(0.9667)">Structured</div>
<div class="t" style="left:770.6px;top:671.5px;font-size:13.5px;font-weight:400;color:#2c3850;-webkit-text-stroke:0.4px #2c3850;transform:scaleX(0.9630)">Data</div>
<div class="t" style="left:884.0px;top:639.7px;font-size:13.8px;font-weight:400;color:#2c3850;-webkit-text-stroke:0.4px #2c3850;transform:scaleX(1.0149)">Knowledge</div>
<div class="t" style="left:899.4px;top:655.3px;font-size:13.8px;font-weight:400;color:#2c3850;-webkit-text-stroke:0.4px #2c3850;transform:scaleX(0.9892)">Graph</div>
</body></html>
